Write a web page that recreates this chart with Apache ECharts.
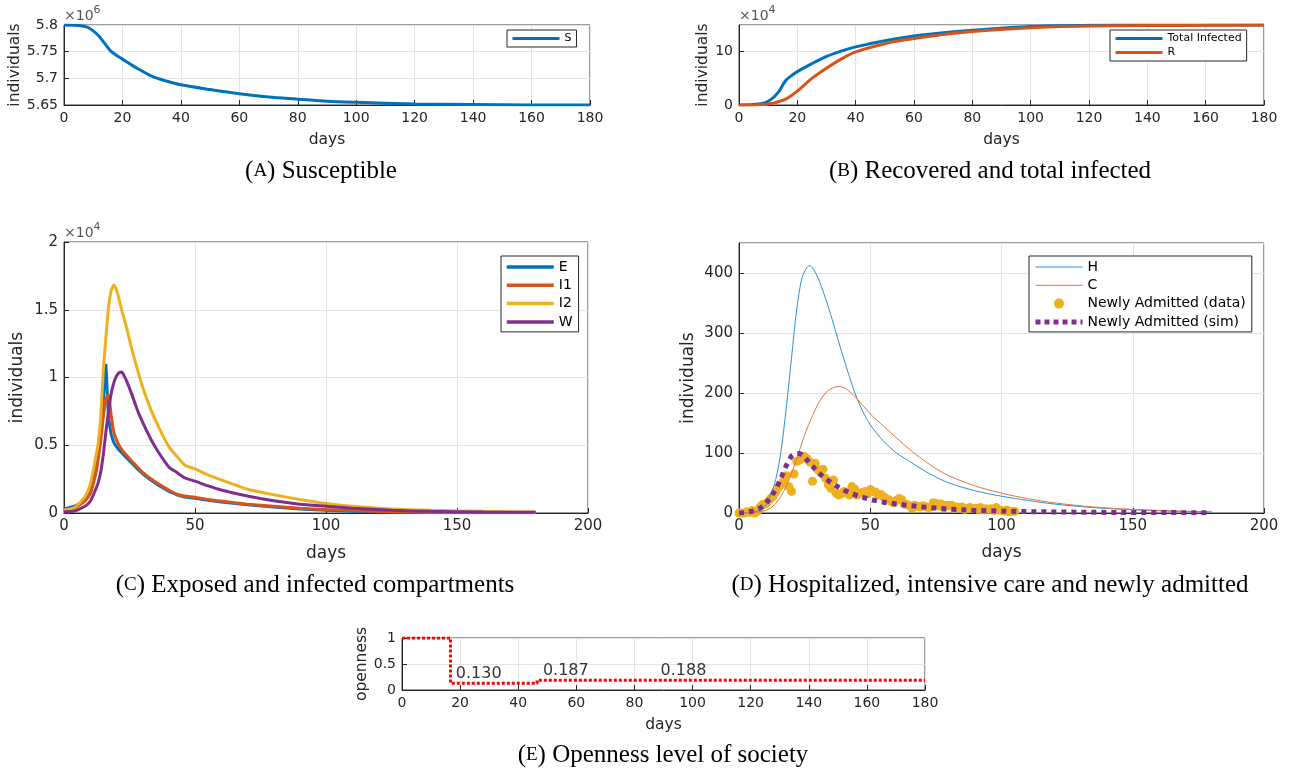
<!DOCTYPE html>
<html>
<head>
<meta charset="utf-8">
<title>SEIR model panels</title>
<script src="https://cdn.jsdelivr.net/npm/echarts@6/dist/echarts.min.js"></script>
<style>
  html, body { margin: 0; padding: 0; background: #fff; }
  #main { width: 1291px; height: 769px; }
</style>
</head>
<body>
<div id="main"></div>
<script>
// ---- (A) susceptible, in units of 1e6 ----
var sDays = [0, 5, 8, 10, 12, 14, 16, 18, 20, 25, 30, 35, 40, 50, 60, 70, 80, 90, 100, 120, 140, 160, 180];
var sVals = [5.800, 5.799, 5.796, 5.789, 5.779, 5.765, 5.751, 5.743, 5.736, 5.719, 5.704, 5.695, 5.688, 5.679, 5.671, 5.665, 5.661, 5.657, 5.655, 5.652, 5.651, 5.650, 5.650];

// ---- (B) total infected and recovered, in units of 1e4 ----
var bDays = [0, 5, 8, 10, 12, 14, 16, 18, 20, 25, 30, 35, 40, 50, 60, 70, 80, 100, 120, 140, 160, 180];
var totalInf = [0, 0.1, 0.3, 0.7, 1.5, 2.8, 4.6, 5.5, 6.25, 7.75, 9.1, 10.1, 10.9, 12.05, 12.95, 13.55, 14.0, 14.7, 14.95, 15.0, 15.0, 15.0];
var recovered = [0, 0.02, 0.08, 0.2, 0.4, 0.7, 1.1, 1.8, 2.6, 5.0, 6.9, 8.6, 9.95, 11.5, 12.45, 13.2, 13.78, 14.5, 14.8, 14.9, 14.95, 15.0];

// ---- (C) exposed / infected compartments, in units of 1e4 ----
var cDays = [0, 4, 8, 10, 12, 13, 14, 15, 16, 17, 18, 19, 20, 21, 22, 23, 24, 26, 28, 30, 33, 36, 40, 43, 46, 50, 55, 60, 70, 80, 90, 100, 110, 125, 140, 160, 180];
var eVals  = [0.03, 0.05, 0.09, 0.15, 0.3, 0.42, 0.58, 0.82, 1.10, 0.70, 0.58, 0.52, 0.49, 0.465, 0.445, 0.425, 0.405, 0.365, 0.325, 0.29, 0.245, 0.205, 0.16, 0.135, 0.118, 0.108, 0.094, 0.082, 0.06, 0.044, 0.03, 0.02, 0.013, 0.007, 0.004, 0.002, 0.001];
var i1Vals = [0.02, 0.035, 0.09, 0.14, 0.28, 0.39, 0.53, 0.71, 0.85, 0.87, 0.72, 0.6, 0.54, 0.5, 0.47, 0.445, 0.425, 0.38, 0.34, 0.3, 0.255, 0.215, 0.17, 0.14, 0.125, 0.117, 0.1, 0.088, 0.065, 0.05, 0.035, 0.025, 0.018, 0.01, 0.006, 0.004, 0.003];
var i2Vals = [0.02, 0.04, 0.12, 0.21, 0.4, 0.51, 0.7, 1.05, 1.3, 1.52, 1.64, 1.68, 1.65, 1.58, 1.5, 1.43, 1.36, 1.2, 1.06, 0.93, 0.77, 0.64, 0.49, 0.42, 0.355, 0.325, 0.28, 0.245, 0.175, 0.135, 0.1, 0.07, 0.05, 0.03, 0.02, 0.012, 0.008];
var wVals  = [0.01, 0.015, 0.05, 0.085, 0.17, 0.22, 0.3, 0.43, 0.6, 0.75, 0.88, 0.96, 1.01, 1.035, 1.04, 1.01, 0.97, 0.87, 0.76, 0.67, 0.55, 0.45, 0.34, 0.3, 0.26, 0.235, 0.2, 0.17, 0.125, 0.09, 0.065, 0.05, 0.035, 0.02, 0.012, 0.007, 0.005];

// ---- (D) hospitalized, intensive care, newly admitted ----
var dDays = [0, 5, 8, 10, 12, 14, 16, 18, 20, 22, 24, 26, 27, 28, 30, 32, 34, 36, 38, 40, 42, 44, 46, 48, 50, 55, 60, 65, 70, 75, 80, 90, 100, 110, 120, 135, 150, 165, 180];
var hVals = [0, 1, 5, 12, 30, 56, 103, 175, 258, 340, 392, 410, 412, 409, 393, 370, 344, 315, 285, 256, 228, 202, 180, 162, 147, 120, 100, 86, 72, 60, 50, 37, 28, 21, 15, 9, 5.5, 3, 1.5];
var icuVals = [0, 0.5, 2, 4, 8, 16, 28, 45, 66, 90, 117, 142, 152, 162, 181, 195, 204, 209, 211, 209, 203, 195, 185, 175, 165, 145, 125, 106, 89, 74, 62, 45, 33, 24, 17, 10, 6, 3.5, 2];
// observed daily admissions, one value per day starting at day 0
var admitVals = [0, 0, 0, 2, 1, 4, 0, 3, 10, 14, 15, 19, 24, 28, 35, 42, 47, 54, 62, 44, 36, 65, 86, 88, 92, 94, 90, 85, 53, 83,
  72, 69, 73, 58, 47, 41, 55, 33, 30, 32, 36, 34, 30, 44, 40, 30, 33, 34, 36, 32, 39, 36, 35, 30, 31, 27, 24, 22, 19, 17,
  21, 24, 22, 15, 14, 12, 8, 13, 11, 10, 12, 11, 9, 10, 17, 16, 12, 15, 9, 13, 12, 13, 8, 10, 9, 10, 6, 8, 9, 7,
  8, 6, 9, 5, 7, 6, 7, 4, 9, 5, 4, 3, 5, 2, 3, 3];
var simDays = [0, 2, 4, 6, 8, 10, 12, 14, 16, 18, 20, 21, 22, 23, 24, 26, 28, 30, 33, 36, 40, 45, 50, 55, 60, 70, 80, 90, 100, 110, 120, 140, 160, 180];
var simVals = [0, 0.5, 2, 4, 8, 14, 26, 39, 58, 79, 95, 98, 99, 99, 97, 88, 78, 68, 57, 48, 38, 29, 22.5, 18, 15, 10, 6.5, 4.3, 3.2, 2.3, 1.7, 1, 0.7, 0.5];

// ---- (E) openness level ----
var openDays = [0, 16.7, 46.5, 90, 180];
var openVals = [1, 0.130, 0.187, 0.188, 0.188];
var openLabelDays = [18.5, 48.5, 89];

var FONT = 'DejaVu Sans';
var AX = '#262626';
var GRIDC = '#e3e3e3';
var BLUE = '#0072BD', ORANGE = '#D95319', YELLOW = '#EDB120', PURPLE = '#7E2F8E';

function pairs(xs, ys) {
    return xs.map(function (x, i) { return [x, ys[i]]; });
}

function grid(left, top, width, height) {
    return {
        left: left, top: top, width: width, height: height,
        show: true, borderColor: '#3a3a3a', borderWidth: 1,
        outerBoundsMode: 'none'
    };
}

function xAx(gi, max, interval, fs, nfs, gap) {
    return {
        type: 'value', gridIndex: gi, min: 0, max: max, interval: interval,
        name: 'days', nameLocation: 'middle', nameGap: gap,
        nameTextStyle: { fontFamily: FONT, fontSize: nfs, color: AX },
        axisLine: { show: true, onZero: false, lineStyle: { color: AX } },
        axisTick: { show: true, inside: true, length: 5, lineStyle: { color: AX } },
        axisLabel: { fontFamily: FONT, fontSize: fs, color: AX, margin: 6 },
        splitLine: { show: true, lineStyle: { color: GRIDC } }
    };
}

function yAx(gi, min, max, interval, fs, nfs, gap, showMax, name) {
    return {
        type: 'value', gridIndex: gi, min: min, max: max, interval: interval,
        name: name || 'individuals', nameLocation: 'middle', nameGap: gap, nameRotate: 90,
        nameTextStyle: { fontFamily: FONT, fontSize: nfs, color: AX },
        axisLine: { show: true, onZero: false, lineStyle: { color: AX } },
        axisTick: { show: true, inside: true, length: 5, lineStyle: { color: AX } },
        axisLabel: { fontFamily: FONT, fontSize: fs, color: AX, margin: 6, showMaxLabel: showMax },
        splitLine: { show: true, lineStyle: { color: GRIDC } }
    };
}

function line(name, gi, data, color, width, extra) {
    var s = {
        name: name, type: 'line', xAxisIndex: gi, yAxisIndex: gi,
        data: data, symbol: 'none', showSymbol: false, smooth: false,
        lineStyle: { color: color, width: width },
        itemStyle: { color: color },
        emphasis: { disabled: true }
    };
    if (extra) { for (var k in extra) s[k] = extra[k]; }
    return s;
}

// line series always get a marker in the legend; hide it, keep the line
function legendBox(names, left, top, fs, ih, gap, pad, lw) {
    return {
        data: names.map(function (n) {
            return typeof n === 'string'
                ? { name: n, itemStyle: { opacity: 0 }, lineStyle: { width: lw } }
                : n;
        }),
        left: left, top: top, orient: 'vertical',
        itemWidth: 47, itemHeight: ih, itemGap: gap, itemTextGap: 5,
        padding: pad, backgroundColor: '#fff', borderColor: AX, borderWidth: 1, borderRadius: 0,
        textStyle: { fontFamily: FONT, fontSize: fs, color: '#000', lineHeight: fs },
        selectedMode: false
    };
}

function caption(letter, rest, cx, cy) {
    return {
        type: 'text', x: cx, y: cy,
        style: {
            text: '({sc|' + letter + '}) ' + rest,
            fontFamily: 'Liberation Serif', fontSize: 25, fill: '#000',
            align: 'center', verticalAlign: 'middle',
            rich: { sc: { fontFamily: 'Liberation Serif', fontSize: 19, fill: '#000' } }
        }
    };
}

function expo(pow, x, y) {
    return {
        type: 'text', x: x, y: y,
        style: {
            text: '{a|\u00d710}{b|' + pow + '}',
            align: 'left', verticalAlign: 'bottom',
            rich: {
                a: { fontFamily: FONT, fontSize: 14, fill: '#555', lineHeight: 18, verticalAlign: 'bottom' },
                b: { fontFamily: FONT, fontSize: 11, fill: '#555', lineHeight: 18, verticalAlign: 'top' }
            }
        }
    };
}

var chart = echarts.init(document.getElementById('main'));
chart.setOption({
    animation: false,
    backgroundColor: '#fff',
    grid: [
        grid(64, 25, 526, 80),
        grid(739, 25, 525, 80),
        grid(64, 242, 524, 271),
        grid(739, 243, 525, 270),
        grid(402, 638, 523, 52)
    ],
    xAxis: [
        xAx(0, 180, 20, 14, 15.5, 27),
        xAx(1, 180, 20, 14, 15.5, 27),
        xAx(2, 200, 50, 15, 17, 32),
        xAx(3, 200, 50, 15, 17, 31),
        xAx(4, 180, 20, 14, 15.5, 27)
    ],
    yAxis: [
        yAx(0, 5.65, 5.8, 0.05, 14, 15.5, 38, true),
        yAx(1, 0, 15, 10, 14, 15.5, 24, false),
        yAx(2, 0, 2, 0.5, 15, 17, 38, true),
        yAx(3, 0, 450, 100, 15, 17, 42, false),
        yAx(4, 0, 1, 0.5, 14, 15.5, 26, true, 'openness')
    ],
    legend: [
        legendBox(['S'], 507, 30, 11, 11, 3, [3, 5, 3, 4], 3),
        legendBox(['Total Infected', 'R'], 1110, 30, 11, 11, 3, [3, 5, 3, 4], 3),
        legendBox(['E', 'I1', 'I2', 'W'], 501, 256, 14, 10, 4.3, [4, 6, 3, 4], 3.5),
        legendBox(['H', 'C', { name: 'Newly Admitted (data)' },
            { name: 'Newly Admitted (sim)', itemStyle: { opacity: 0 }, lineStyle: { width: 5, type: [5, 4], cap: 'butt' } }],
            1029, 256, 14, 10, 4.3, [4, 6, 3, 4], 1)
    ],
    series: [
        line('S', 0, pairs(sDays, sVals), BLUE, 3, { smooth: 0.3 }),
        line('Total Infected', 1, pairs(bDays, totalInf), BLUE, 3, { smooth: 0.3 }),
        line('R', 1, pairs(bDays, recovered), ORANGE, 3, { smooth: 0.3 }),
        line('E', 2, pairs(cDays, eVals), BLUE, 3),
        line('I1', 2, pairs(cDays, i1Vals), ORANGE, 3, { smooth: 0.15 }),
        line('I2', 2, pairs(cDays, i2Vals), YELLOW, 3, { smooth: 0.2 }),
        line('W', 2, pairs(cDays, wVals), PURPLE, 3, { smooth: 0.2 }),
        line('H', 3, pairs(dDays, hVals), '#2d8fd5', 1, { smooth: 0.3 }),
        line('C', 3, pairs(dDays, icuVals), '#e0733f', 1, { smooth: 0.3 }),
        {
            name: 'Newly Admitted (data)', type: 'scatter', xAxisIndex: 3, yAxisIndex: 3,
            data: admitVals.map(function (v, i) { return [i, v]; }),
            symbol: 'circle', symbolSize: 9,
            itemStyle: { color: YELLOW, opacity: 1 },
            emphasis: { disabled: true }
        },
        line('Newly Admitted (sim)', 3, pairs(simDays, simVals), PURPLE, 5,
            { lineStyle: { color: PURPLE, width: 5, type: [5, 5], cap: 'butt' } }),
        line('openness', 4, pairs(openDays, openVals), '#ff0000', 3,
            { step: 'end', lineStyle: { color: '#ff0000', width: 3, type: [3, 2], cap: 'butt' } }),
        {
            name: 'openLabels', type: 'scatter', xAxisIndex: 4, yAxisIndex: 4,
            data: pairs(openLabelDays, openVals.slice(1, 4)),
            symbolSize: 0, silent: true,
            label: {
                show: true, position: 'right', distance: 0, offset: [0, -9],
                fontFamily: FONT, fontSize: 16, color: '#000',
                formatter: function (p) { return p.value[1].toFixed(3); }
            }
        }
    ],
    graphic: [
        expo('6', 64, 23),
        expo('4', 739, 23),
        expo('4', 64, 240),
        caption('A', 'Susceptible', 321, 171),
        caption('B', 'Recovered and total infected', 990, 171),
        caption('C', 'Exposed and infected compartments', 315, 585),
        caption('D', 'Hospitalized, intensive care and newly admitted', 990, 585),
        caption('E', 'Openness level of society', 663, 755)
    ]
});
</script>
</body>
</html>
